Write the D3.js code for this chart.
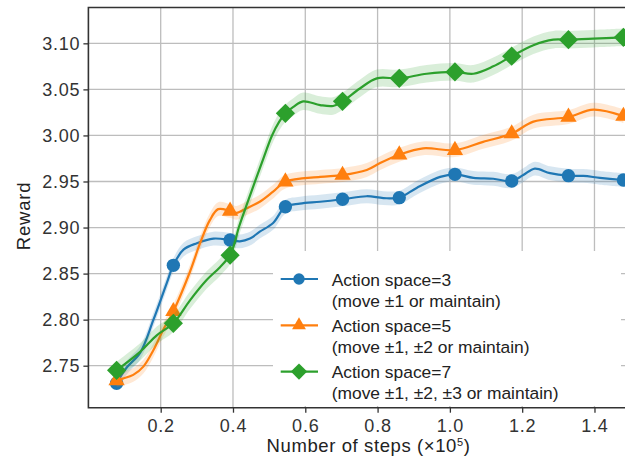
<!DOCTYPE html>
<html>
<head>
<meta charset="utf-8">
<script src="https://cdn.jsdelivr.net/npm/d3@7"></script>
<style>
  body { margin: 0; background: #fff; }
  svg { display: block; font-family: "Liberation Sans", Arial, sans-serif; }
</style>
</head>
<body>
<div id="app"></div>
<script>
// values
const stepsBlue = [0.078, 0.106, 0.143, 0.180, 0.217, 0.235, 0.263, 0.300, 0.346, 0.392, 0.419, 0.447, 0.474, 0.511, 0.545, 0.585, 0.641, 0.703, 0.770, 0.816, 0.860, 0.908, 0.973, 1.014, 1.065, 1.120, 1.171, 1.203, 1.235, 1.277, 1.328, 1.369, 1.415, 1.480];
const rewardBlue = [2.731, 2.748, 2.764, 2.800, 2.840, 2.859, 2.876, 2.883, 2.888, 2.8865, 2.885, 2.888, 2.8955, 2.905, 2.9226, 2.926, 2.928, 2.9307, 2.934, 2.932, 2.9324, 2.943, 2.955, 2.9578, 2.954, 2.953, 2.9505, 2.957, 2.964, 2.959, 2.9563, 2.956, 2.954, 2.9516];

const stepsOrange = [0.078, 0.095, 0.124, 0.152, 0.180, 0.207, 0.235, 0.281, 0.309, 0.336, 0.359, 0.392, 0.410, 0.438, 0.474, 0.511, 0.545, 0.641, 0.703, 0.770, 0.807, 0.860, 0.926, 1.014, 1.092, 1.171, 1.231, 1.328, 1.397, 1.480];
const rewardOrange = [2.734, 2.736, 2.740, 2.749, 2.767, 2.789, 2.809, 2.852, 2.883, 2.908, 2.920, 2.918, 2.916, 2.921, 2.928, 2.939, 2.9498, 2.955, 2.957, 2.9625, 2.970, 2.979, 2.986, 2.984, 2.993, 3.002, 3.015, 3.020, 3.028, 3.021];

const stepsGreen = [0.078, 0.143, 0.189, 0.235, 0.281, 0.327, 0.364, 0.392, 0.405, 0.416, 0.440, 0.461, 0.485, 0.508, 0.528, 0.545, 0.567, 0.594, 0.641, 0.677, 0.703, 0.751, 0.798, 0.860, 0.936, 1.014, 1.065, 1.120, 1.171, 1.231, 1.286, 1.328, 1.397, 1.480];
const rewardGreen = [2.745, 2.765, 2.783, 2.796, 2.821, 2.843, 2.857, 2.870, 2.884, 2.900, 2.927, 2.950, 2.976, 3.000, 3.015, 3.024, 3.031, 3.037, 3.033, 3.032, 3.037, 3.051, 3.062, 3.062, 3.067, 3.069, 3.067, 3.075, 3.086, 3.098, 3.104, 3.104, 3.105, 3.1065];

const markerSteps = [0.078, 0.235, 0.392, 0.545, 0.703, 0.860, 1.014, 1.171, 1.328, 1.480];
const markerBlue = [2.731, 2.859, 2.8865, 2.9226, 2.9307, 2.9324, 2.9578, 2.9505, 2.9563, 2.9516];
const markerOrange = [2.734, 2.809, 2.918, 2.9498, 2.957, 2.979, 2.984, 3.002, 3.020, 3.021];
const markerGreen = [2.745, 2.796, 2.870, 3.024, 3.037, 3.062, 3.069, 3.086, 3.104, 3.1065];

const bandBlue = 0.0075, bandOrange = 0.0075, bandGreen = 0.0095;

const legendTitles = ["Action space=3", "Action space=5", "Action space=7"];
const legendNotes = ["(move \u00b11 or maintain)", "(move \u00b11, \u00b12 or maintain)", "(move \u00b11, \u00b12, \u00b13 or maintain)"];

const xTicks = [0.2, 0.4, 0.6, 0.8, 1.0, 1.2, 1.4];
const yTicks = [2.75, 2.80, 2.85, 2.90, 2.95, 3.00, 3.05, 3.10];

const W = 625, H = 461;
const plotLeft = 88.4, plotTop = 7.5, plotBottom = 407.7, plotRight = 648.7;

const svg = d3.select("#app").append("svg")
    .attr("width", W)
    .attr("height", H);

const x = d3.scaleLinear().domain([0, 1.55]).range([plotLeft, plotRight]);
const y = d3.scaleLinear().domain([2.7044, 3.1389]).range([plotBottom, plotTop]);

// grid
svg.append("g")
    .selectAll("line").data(xTicks).join("line")
        .attr("x1", d => x(d)).attr("x2", d => x(d))
        .attr("y1", plotTop).attr("y2", plotBottom)
        .attr("stroke", "#bdbdbd").attr("stroke-width", 1.3);
svg.append("g")
    .selectAll("line").data(yTicks).join("line")
        .attr("x1", plotLeft).attr("x2", plotRight)
        .attr("y1", d => y(d)).attr("y2", d => y(d))
        .attr("stroke", "#bdbdbd").attr("stroke-width", 1.3);

const series = [
    {steps: stepsBlue, reward: rewardBlue, marks: markerBlue, band: bandBlue, color: "#1f77b4", shape: "circle"},
    {steps: stepsOrange, reward: rewardOrange, marks: markerOrange, band: bandOrange, color: "#ff7f0e", shape: "triangle"},
    {steps: stepsGreen, reward: rewardGreen, marks: markerGreen, band: bandGreen, color: "#2ca02c", shape: "diamond"}
];

const symbolFor = (shape, k) => {
    if (shape === "circle") return d3.symbol(d3.symbolCircle, 140 * k * k)();
    if (shape === "triangle") return d3.symbol(d3.symbolTriangle, 115 * k * k)();
    return d3.symbol(d3.symbolSquare, 185 * k * k)();
};

const plot = svg.append("g");
series.forEach(s => {
    const pts = s.steps.map((d, i) => [d, s.reward[i]]);
    plot.append("path")
        .datum(pts)
        .attr("fill", s.color)
        .attr("fill-opacity", 0.18)
        .attr("d", d3.area()
            .curve(d3.curveCatmullRom)
            .x(d => x(d[0]))
            .y0(d => y(d[1] - s.band))
            .y1(d => y(d[1] + s.band)));
    plot.append("path")
        .datum(pts)
        .attr("fill", "none")
        .attr("stroke", s.color)
        .attr("stroke-width", 2.2)
        .attr("d", d3.line()
            .curve(d3.curveCatmullRom)
            .x(d => x(d[0]))
            .y(d => y(d[1])));
    plot.append("g")
        .selectAll("path").data(markerSteps).join("path")
            .attr("d", symbolFor(s.shape, 1))
            .attr("fill", s.color)
            .attr("transform", (d, i) => "translate(" + x(d) + "," + y(s.marks[i]) + ")" + (s.shape === "diamond" ? " rotate(45)" : ""));
});

// axes
const yAxis = svg.append("g")
    .attr("transform", "translate(" + plotLeft + ",0)")
    .call(d3.axisLeft(y).tickValues(yTicks).tickSize(5).tickPadding(3).tickFormat(d3.format(".2f")));
const xAxis = svg.append("g")
    .attr("transform", "translate(0," + plotBottom + ")")
    .call(d3.axisBottom(x).tickValues(xTicks).tickSize(5).tickPadding(7).tickFormat(d3.format(".1f")));
[yAxis, xAxis].forEach(a => {
    a.select(".domain").remove();
    a.selectAll(".tick line").attr("stroke", "#333").attr("stroke-width", 1.3);
    a.selectAll(".tick text")
        .attr("fill", "#333")
        .style("font-size", "18px")
        .style("letter-spacing", "0.8px")
        .style("font-family", "'Liberation Sans', Arial, sans-serif");
});

// spines
svg.append("path")
    .attr("d", "M" + plotRight + "," + plotTop + "H" + plotLeft + "V" + plotBottom + "H" + plotRight)
    .attr("fill", "none")
    .attr("stroke", "#333")
    .attr("stroke-width", 1.6);

// legend
const legend = svg.append("g");
legend.append("rect")
    .attr("x", 273).attr("y", 251)
    .attr("width", 348).attr("height", 155)
    .attr("fill", "#fff");
series.forEach((s, i) => {
    const cy = 279 + i * 46.3;
    legend.append("line")
        .attr("x1", 280.7).attr("x2", 318)
        .attr("y1", cy).attr("y2", cy)
        .attr("stroke", s.color).attr("stroke-width", 2.2);
    legend.append("path")
        .attr("d", symbolFor(s.shape, 0.85))
        .attr("fill", s.color)
        .attr("transform", "translate(299," + cy + ")" + (s.shape === "diamond" ? " rotate(45)" : ""));
    legend.append("text")
        .attr("x", 331.7).attr("y", cy + 6.5)
        .attr("fill", "#222")
        .style("font-size", "17.4px")
        .text(legendTitles[i]);
    legend.append("text")
        .attr("x", 331.7).attr("y", cy + 27.5)
        .attr("fill", "#222")
        .style("font-size", "17.4px")
        .text(legendNotes[i]);
});

// axis titles
const xLabel = svg.append("text")
    .attr("x", (plotLeft + plotRight) / 2).attr("y", 452)
    .attr("text-anchor", "middle")
    .attr("fill", "#222")
    .style("font-size", "18.5px")
    .style("letter-spacing", "0.6px");
xLabel.append("tspan").text("Number of steps (\u00d710");
xLabel.append("tspan").attr("dy", -6).style("font-size", "11px").text("5");
xLabel.append("tspan").attr("dy", 6).text(")");

svg.append("text")
    .attr("transform", "translate(30,216) rotate(-90)")
    .attr("text-anchor", "middle")
    .attr("fill", "#222")
    .style("font-size", "18.5px")
    .style("letter-spacing", "0.8px")
    .text("Reward");
</script>
</body>
</html>
